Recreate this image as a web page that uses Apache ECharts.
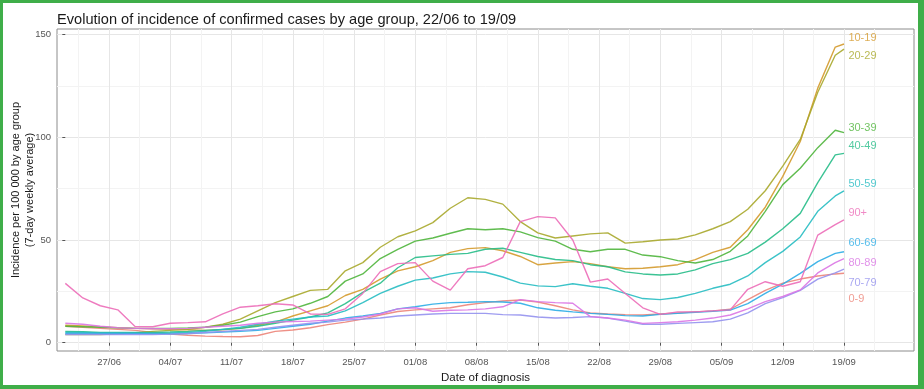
<!DOCTYPE html>
<html><head><meta charset="utf-8">
<script src="https://cdn.jsdelivr.net/npm/echarts@6/dist/echarts.min.js"></script>
<style>html,body{margin:0;padding:0;background:#fff}#c{width:924px;height:389px}</style>
</head><body><div id="c"></div>
<script>
// day index: 0 = 22/06 ... 89 = 19/09
const days = [0,2,4,6,8,10,12,14,16,18,20,22,24,26,28,30,32,34,36,38,40,42,44,46,48,50,52,54,56,58,60,62,64,66,68,70,72,74,76,78,80,82,84,86,88,89];
const groups = ['0-9','10-19','20-29','30-39','40-49','50-59','60-69','70-79','80-89','90+'];
const s0_9   = [8,7.5,7,6.5,6,5,4.2,3.6,3.2,3, 2.9,3.5,5.5,6.2,7.3,8.8,10,11.5,13.5,15.2, 16,16.5,17,18.5,19.5,20.3,20.8,19.8,18,16, 14.5,14,13.7,13.5,14,14.5,15,15.5,16.3,21, 25.5,29,31,32.5,33.5,33.8];
const s10_19 = [8.5,8.2,7.8,7.3,7,6.8,6.5,6.3,6,6.3, 7,8.5,10,13,15.5,18,23,26,31,35, 37,40,44,45.8,46.3,44.8,42,38,38.8,39.5, 38.5,37,36,36.3,37,38,40.5,44,46.5,55, 66,81,98,124,144,145.5];
const s20_29 = [4,4,4,4.3,4.8,5.5,6,6.5,7.5,9, 11.5,15.5,19.5,22.5,25.5,26,35,39,46.5,51.6, 54.5,58.5,65.5,70.6,69.8,67.5,59,53.5,51,52, 53,53.5,48.5,49.2,50,50.5,52.5,55.5,59,65, 74,86,99,122,140,143];
const s30_39 = [8,7.8,7.5,7.2,7,7,7,7.2,7.5,8.5, 10,12.7,15,16.5,19.2,22.5,30,33.5,41,45.5, 49.5,51,53.3,55.5,55,55.5,54,51.2,49.5,45.5, 44.3,45.5,45.5,42.7,41.9,40,38.8,40.5,44.5,52, 64,77,85,95,103.5,102.3];
const s40_49 = [5.5,5.3,5,5,5,5,5.2,5.5,6,6.5, 7,8,9.5,11,12.5,14.5,19,24.5,29,36.5, 41.5,42.3,43,43.5,45.5,46,44,42,40.5,40, 38,37,34.5,33.5,33,33.5,35.5,38.5,40.5,43.5, 49,55.5,63,78,91.5,92.2];
const s50_59 = [5,5,4.8,4.7,4.6,4.6,4.7,5,5.5,6.5, 7.5,9,10.5,11.5,12.5,13,15.5,19.5,24,27.5, 30.5,31.5,33.5,34.6,34.3,32,29,27.7,27.3,28.7, 27.5,26.5,24,21.5,21,22,24,26.5,28.5,32.5, 39,44.5,51.5,64,71.5,74];
const s60_69 = [4.5,4.5,4.5,4.5,4.5,4.3,4.3,4.5,4.8,5.2, 5.5,6,7,8,9,10.5,12,13,14.3,16.5, 17.5,18.8,19.5,19.7,20,19.8,19.2,17,15.8,15, 14.3,13.8,13.2,13,13.8,14.3,14.8,15.3,15.9,19, 24,28.5,33.8,39.5,43.5,44.3];
const s70_79 = [4,4,4,4,4,4,4.2,4.5,5,5.5, 6,6.5,7.5,8.5,9.5,10,11,11.5,12,13, 13.5,14,14.3,14.3,14.3,13.7,13.5,12.5,12,12.3, 12.7,12,10.5,9,9,9.4,9.8,10.2,11.5,14.5, 19,22,25.5,31,34,35.8];
const s80_89 = [9.5,9,8,7.3,7,6.8,6.8,7,7.5,8, 8.5,9.5,10,10.3,10.5,11,11.5,12.5,14,16.5, 17,15.3,15.8,16,16.5,17.5,21,20,19.5,19.2, 12.7,12,11,9.4,9.8,10.2,11,12,13.5,16.5, 20,22.5,25.7,34,39,41];
const s90p   = [28.9,21.8,18,16,7.8,7.8,9.5,9.8,10.2,14, 17.3,18,19,18.4,14,13.8,16.5,24,34.6,38.5, 39,30,25.6,36,37.5,41.5,59,61.4,60.8,50, 29.5,31,24,17,13.8,15,15,15.5,16,26, 29.7,27.5,29.7,52.4,57.5,59.8];
const seriesValues = [s0_9,s10_19,s20_29,s30_39,s40_49,s50_59,s60_69,s70_79,s80_89,s90p];
// repelled end-label positions (in data units)
const labelValues = [21.3,148.6,139.6,104.8,95.8,77.3,48.4,29.3,38.7,63.4];
const labelDay = 89.5;
const tickDays = [5,12,19,26,33,40,47,54,61,68,75,82,89];
const tickLabels = ['27/06','04/07','11/07','18/07','25/07','01/08','08/08','15/08','22/08','29/08','05/09','12/09','19/09'];
const minorDays = [1.5,8.5,15.5,22.5,29.5,36.5,43.5,50.5,57.5,64.5,71.5,78.5,85.5,92.5];
const yTicks = [0,50,100,150];
const yMinor = [25,75,125];

const colors = ['#ec8479','#d49a2c','#a9a92c','#4fb53c','#27bd88','#27bcc2','#2cade6','#9391ee','#da76e4','#ec6db8'];
const FONT = '"Liberation Sans", Arial, sans-serif';
const GREEN = '#3fae49';

const chart = echarts.init(document.getElementById('c'), null, {renderer:'canvas'});
const lineSeries = groups.map((g,i)=>({
  name:g, type:'line', xAxisIndex:0, yAxisIndex:0,
  data: days.map((d,k)=>[d, seriesValues[i][k]]),
  showSymbol:false, symbol:'none', silent:true,
  lineStyle:{color:colors[i], width:1.4, opacity:0.9},
  itemStyle:{color:colors[i]}, z:2+i
}));
const labelSeries = {
  type:'scatter', xAxisIndex:0, yAxisIndex:0, symbolSize:0, silent:true, z:20,
  data: groups.map((g,i)=>({value:[labelDay, labelValues[i]],
    label:{show:true, formatter:g, color:colors[i], position:'right', distance:0,
      fontSize:11, fontFamily:FONT}})),
};
const common = {min:-0.95, max:97};
chart.setOption({
  animation:false,
  backgroundColor:'#fff',
  title:{text:'Evolution of incidence of confirmed cases by age group, 22/06 to 19/09',
    left:52, top:7, textStyle:{fontSize:14.6, fontWeight:'normal', color:'#1a1a1a', fontFamily:FONT}},
  grid:{left:57, right:10, top:29, bottom:38, show:true, borderColor:'#8c8c8c', borderWidth:1,
    backgroundColor:'#fff', outerBoundsMode:'none', containLabel:false},
  xAxis:[
    Object.assign({type:'value', position:'bottom',
      name:'Date of diagnosis', nameLocation:'middle', nameGap:17,
      nameTextStyle:{fontSize:11.5, color:'#1a1a1a', fontFamily:FONT},
      axisLine:{show:false},
      axisTick:{show:true, length:3, lineStyle:{color:'#555'}, customValues:tickDays},
      axisLabel:{show:true, customValues:tickDays, margin:6, fontSize:9.5, color:'#555', fontFamily:FONT,
        formatter:(v)=>{const k=tickDays.indexOf(Math.round(v)); return k>=0?tickLabels[k]:'';}},
      splitLine:{show:true, lineStyle:{color:'#e6e6e6', width:1}}
    }, common),
    Object.assign({type:'value', position:'bottom', show:true,
      axisLine:{show:false}, axisLabel:{show:false},
      axisTick:{show:false, customValues:minorDays},
      splitLine:{show:true, lineStyle:{color:'#f3f3f3', width:1}}
    }, common)
  ],
  yAxis:[
    {type:'value', min:-4.04, max:152.8, position:'left',
      axisLine:{show:false},
      axisTick:{show:true, length:3, lineStyle:{color:'#555'}, customValues:yTicks},
      axisLabel:{show:true, customValues:yTicks, margin:6, fontSize:9.5, color:'#555', fontFamily:FONT},
      splitLine:{show:true, lineStyle:{color:'#e6e6e6', width:1}}
    },
    {type:'value', min:-4.04, max:152.8, position:'left', show:true,
      axisLine:{show:false}, axisLabel:{show:false},
      axisTick:{show:false, customValues:yMinor},
      splitLine:{show:true, lineStyle:{color:'#f3f3f3', width:1}}
    }
  ],
  series: lineSeries.concat([labelSeries]),
  graphic:[
    {type:'text', x:22.5, y:190, rotation:Math.PI/2, z:50,
      style:{text:'Incidence per 100 000 by age group\n(7-day weekly average)', align:'center',
        verticalAlign:'middle', fontSize:11, lineHeight:14, fill:'#1a1a1a', fontFamily:FONT}},
    {type:'rect', shape:{x:0,y:0,width:924,height:3}, style:{fill:GREEN}, z:100},
    {type:'rect', shape:{x:0,y:0,width:3,height:389}, style:{fill:GREEN}, z:100},
    {type:'rect', shape:{x:918,y:0,width:6,height:389}, style:{fill:GREEN}, z:100},
    {type:'rect', shape:{x:0,y:385,width:924,height:4}, style:{fill:GREEN}, z:100}
  ]
});
</script></body></html>
